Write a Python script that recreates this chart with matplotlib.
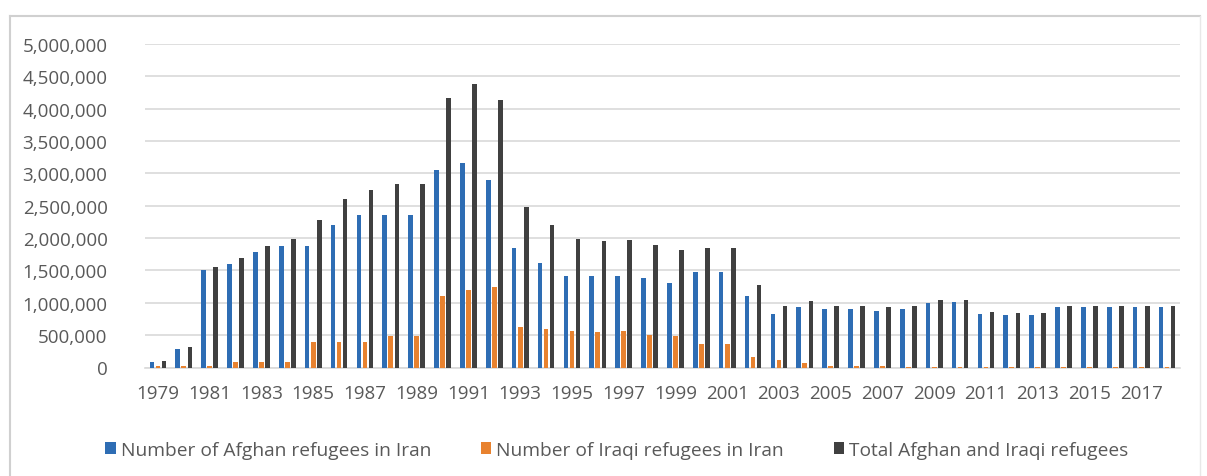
import matplotlib
matplotlib.use("Agg")
import matplotlib.pyplot as plt
import numpy as np
from matplotlib.ticker import FuncFormatter, MultipleLocator
from matplotlib.patches import Patch
from matplotlib.lines import Line2D

years = list(range(1979, 2019))
afghan = [80000, 280000, 1500000, 1600000, 1780000, 1880000, 1880000, 2200000, 2350000, 2350000,
          2350000, 3050000, 3160000, 2900000, 1840000, 1620000, 1420000, 1410000, 1410000, 1380000,
          1300000, 1480000, 1480000, 1100000, 820000, 930000, 900000, 900000, 880000, 910000,
          1000000, 1010000, 820000, 810000, 810000, 940000, 940000, 940000, 940000, 940000]
iraqi = [20000, 30000, 30000, 80000, 90000, 90000, 400000, 400000, 400000, 490000,
         490000, 1100000, 1200000, 1240000, 620000, 590000, 570000, 550000, 560000, 510000,
         480000, 370000, 370000, 160000, 120000, 70000, 20000, 20000, 20000, 15000,
         15000, 15000, 12000, 12000, 12000, 8000, 8000, 8000, 8000, 8000]
total = [100000, 310000, 1560000, 1690000, 1880000, 1980000, 2280000, 2600000, 2750000, 2840000,
         2840000, 4160000, 4380000, 4140000, 2480000, 2210000, 1990000, 1960000, 1970000, 1900000,
         1810000, 1850000, 1850000, 1280000, 950000, 1030000, 950000, 950000, 930000, 950000,
         1050000, 1050000, 860000, 840000, 840000, 950000, 950000, 950000, 950000, 950000]
series_names = ["Number of Afghan refugees in Iran", "Number of Iraqi refugees in Iran",
                "Total Afghan and Iraqi refugees"]
colors = ["#2E6DB4", "#E8822F", "#404040"]

W, H = 1207, 477
fig = plt.figure(figsize=(W / 100, H / 100), dpi=100)
fig.patch.set_facecolor("white")
ax = fig.add_axes([145 / W, 1 - 368.5 / H, (1180 - 145) / W, (368.5 - 45) / H])

x = np.arange(len(years))
bw = 0.18
off = 0.235
for vals, c, d in zip([afghan, iraqi, total], colors, [-off, 0, off]):
    ax.bar(x + d, vals, width=bw, color=c, zorder=3, linewidth=0)

ax.set_xlim(-0.5, len(years) - 0.5)
ax.set_ylim(0, 5000000)
ax.yaxis.set_major_locator(MultipleLocator(500000))
ax.yaxis.set_major_formatter(FuncFormatter(lambda v, p: f"{int(v):,}"))
ax.set_xticks(x[::2])
ax.set_xticklabels([str(y) for y in years[::2]])
ax.grid(axis="y", color="#d9d9d9", linewidth=1.2, zorder=0)
for s in ["top", "right", "left"]:
    ax.spines[s].set_visible(False)
ax.spines["bottom"].set_color("#d9d9d9")
ax.spines["bottom"].set_linewidth(1.2)
ax.tick_params(axis="both", length=0, labelcolor="#595959", labelsize=13.5)
for lab in ax.get_xticklabels() + ax.get_yticklabels():
    lab.set_fontfamily(["Open Sans", "DejaVu Sans"])
ax.tick_params(axis="x", pad=12)
ax.tick_params(axis="y", pad=27)

handles = [Patch(facecolor=c, edgecolor="none") for c in colors]
leg = fig.legend(handles, series_names, loc="center", bbox_to_anchor=(0.511, 1 - 451 / H), ncol=3,
                 frameon=False, prop={"family": ["Open Sans", "DejaVu Sans"], "size": 13.8},
                 handlelength=0.55, handleheight=0.55, handletextpad=0.25, columnspacing=2.6)
for t in leg.get_texts():
    t.set_color("#595959")

# outer chart border
fig.add_artist(Line2D([10 / W, 10 / W], [0, 1 - 17 / H], color="#d0d0d0", lw=1.5, transform=fig.transFigure))
fig.add_artist(Line2D([10 / W, 1200 / W], [1 - 17 / H, 1 - 17 / H], color="#d0d0d0", lw=1.5, transform=fig.transFigure))
fig.add_artist(Line2D([1200 / W, 1200 / W], [0, 1 - 17 / H], color="#e8e8e8", lw=1.0, transform=fig.transFigure))

fig.savefig("out.png", dpi=100)
